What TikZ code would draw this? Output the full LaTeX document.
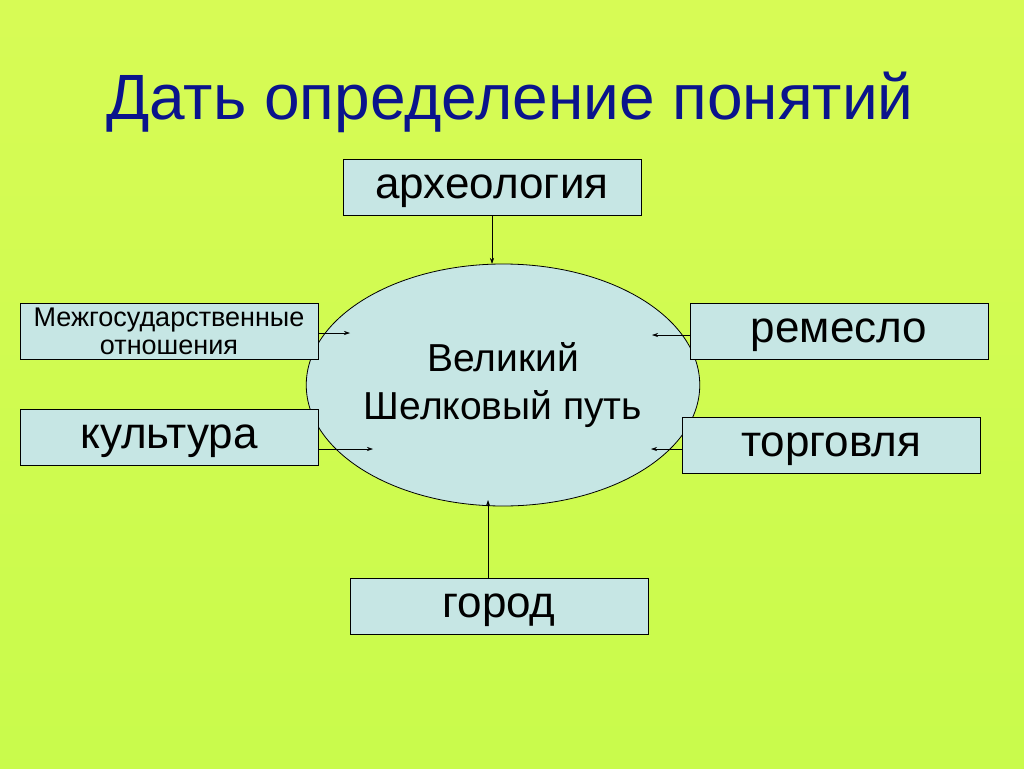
\documentclass[tikz,border=0pt]{standalone}
\usepackage{fontspec}
\setmainfont{Liberation Sans}
\usetikzlibrary{arrows.meta,shapes.geometric}
\pgfdeclareverticalshading{bgsh}{1024bp}{rgb(0bp)=(0.39,0.96,0.2); rgb(300bp)=(0.72,0.98,0.25); rgb(520bp)=(0.97,0.99,0.42); rgb(700bp)=(0.95,0.99,0.4); rgb(768bp)=(0.7,0.97,0.28)}
\begin{document}
\begin{tikzpicture}[x=1pt,y=-1pt,
  box/.style={draw=black,line width=0.8pt,fill=boxc,minimum width=298pt,minimum height=56pt,inner sep=0pt,text height=30pt,text depth=8pt,font=\fontsize{44}{48}\selectfont},
  arr/.style={-{Stealth[length=6pt,width=4pt]},line width=0.6pt}]
\definecolor{boxc}{RGB}{198,230,228}
\definecolor{titc}{RGB}{10,20,140}
\shade[shading=bgsh] (0,0) rectangle (1024,768);
\useasboundingbox (0,0) rectangle (1024,768);
\node[text=titc,font=\fontsize{64}{70}\selectfont] (title) at (510,102) {Дать определение понятий};
\node[draw=black,line width=0.8pt,fill=boxc,ellipse,minimum width=322pt,minimum height=242pt,inner sep=0pt,align=center,font=\fontsize{39}{48}\selectfont] (ell) at (503,385) {Великий\\Шелковый путь};
\node[box] (ar) at (492,187) {археология};
\node[box,align=center,text height=,text depth=,font=\fontsize{27}{28}\selectfont] (mg) at (169,331) {Межгосударственные\\отношения};
\node[box] (ku) at (169,437) {культура};
\node[box] (re) at (839,331) {ремесло};
\node[box] (to) at (831,445) {торговля};
\node[box] (go) at (499,606) {город};
\coordinate (e1) at (492,264);
\coordinate (e2) at (350,333);
\coordinate (e3) at (373,449);
\coordinate (e4) at (652,335);
\coordinate (e5) at (651,449);
\coordinate (e6) at (488,500);
\draw[arr] (ar.south -| e1) -- (e1);
\draw[arr] (mg.east |- e2) -- (e2);
\draw[arr] (ku.east |- e3) -- (e3);
\draw[arr] (re.west |- e4) -- (e4);
\draw[arr] (to.west |- e5) -- (e5);
\draw[arr] (go.north -| e6) -- (e6);
\end{tikzpicture}
\end{document}
